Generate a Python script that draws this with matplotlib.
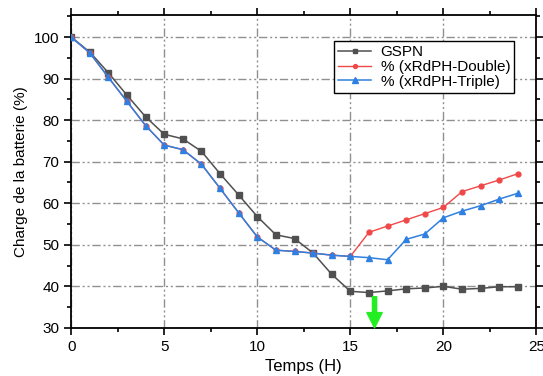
import matplotlib.pyplot as plt
from matplotlib.ticker import MultipleLocator

plt.rcParams['font.family'] = ['Liberation Sans', 'DejaVu Sans']

hours = list(range(25))
gspn = [100, 96.4, 91.4, 86, 80.8, 76.6, 75.5, 72.5, 67.1, 62, 56.8, 52.4, 51.5, 48,
        42.9, 38.8, 38.5, 38.9, 39.4, 39.6, 40, 39.3, 39.5, 39.9, 39.9]
triple = [100, 96.2, 90.3, 84.5, 78.7, 74, 72.9, 69.4, 63.6, 57.7, 51.9, 48.7, 48.4, 48,
          47.5, 47.2, 46.9, 46.4, 51.3, 52.6, 56.5, 58.1, 59.4, 61, 62.4]
double = triple[:16] + [53, 54.5, 56, 57.5, 59, 62.8, 64.2, 65.6, 67.1]

fig = plt.figure(figsize=(5.43, 3.76), dpi=100)
ax = fig.add_axes([0.131, 0.128, 0.857, 0.832])

ax.plot(hours, gspn, color='#505050', marker='s', ms=4, lw=1.1, label='GSPN', zorder=3)
ax.plot(hours, double, color='#f04848', marker='o', ms=3.5, lw=1.0, label='% (xRdPH-Double)', zorder=3)
ax.plot(hours, triple, color='#2f80e0', marker='^', ms=5, lw=1.1, label='% (xRdPH-Triple)', zorder=4)

ax.set_xlim(0, 25)
ax.set_ylim(30, 105.3)
ax.xaxis.set_major_locator(MultipleLocator(5))
ax.xaxis.set_minor_locator(MultipleLocator(2.5))
ax.set_yticks(range(30, 101, 10))
ax.yaxis.set_minor_locator(MultipleLocator(5))
ax.tick_params(which='both', direction='out', width=1.2, labelsize=11,
               top=True, right=True)
ax.tick_params(which='major', length=5)
ax.tick_params(which='minor', length=3)
for s in ax.spines.values():
    s.set_linewidth(1.3)

ax.grid(True, which='major', color='#909090', lw=1.0, ls=(0, (6, 2, 1.5, 2, 1.5, 2)))

ax.set_xlabel('Temps (H)', fontsize=12)
ax.set_ylabel('Charge de la batterie (%)', fontsize=11)

leg = ax.legend(loc='upper right', bbox_to_anchor=(0.968, 0.94), fontsize=11,
                fancybox=False, framealpha=1, edgecolor='black', borderpad=0.25,
                labelspacing=0.05, handlelength=2.2, handletextpad=0.6, markerscale=0.8)
leg.get_frame().set_linewidth(1.0)

ax.annotate('', xy=(16.3, 30), xytext=(16.3, 37.5),
            arrowprops=dict(facecolor='#22ee22', edgecolor='#22ee22', width=3, headwidth=11, headlength=11),
            zorder=5)

fig.savefig('out.png', dpi=100)
